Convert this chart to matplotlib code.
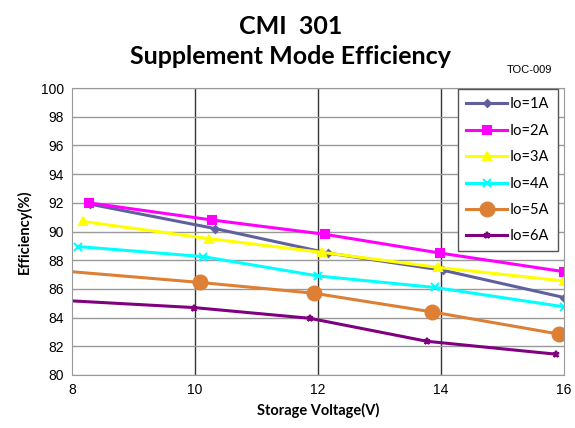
import matplotlib.pyplot as plt

labels = ["Io=1A", "Io=2A", "Io=3A", "Io=4A", "Io=5A", "Io=6A"]
volts = [
    [8.3, 10.33, 12.16, 14.03, 16.0],
    [8.27, 10.28, 12.12, 13.98, 16.0],
    [8.18, 10.23, 12.06, 13.95, 16.0],
    [8.1, 10.13, 12.0, 13.9, 16.0],
    [7.85, 10.08, 11.93, 13.85, 15.92],
    [7.85, 9.98, 11.87, 13.77, 15.87],
]
effs = [
    [91.9, 90.2, 88.5, 87.3, 85.4],
    [92.0, 90.8, 89.8, 88.5, 87.2],
    [90.7, 89.5, 88.55, 87.5, 86.55],
    [88.95, 88.25, 86.9, 86.1, 84.75],
    [87.25, 86.45, 85.7, 84.4, 82.85],
    [85.2, 84.7, 83.95, 82.35, 81.45],
]
colors = ["#60609E", "#FF00FF", "#FFFF00", "#00FFFF", "#DD8035", "#800080"]
markers = ["D", "s", "^", "x", "o", "*"]
msizes = [3.5, 6, 6, 6, 10, 5]

fig = plt.figure(figsize=(5.75, 4.28), dpi=100)
ax = fig.add_axes([72/575, 1-375/428, (564-72)/575, (375-88)/428])

for v, e, c, m, ms, lab in zip(volts, effs, colors, markers, msizes, labels):
    ax.plot(v, e, marker=m, markersize=ms, color=c, linewidth=2.2, label=lab,
            markeredgewidth=1.5)

ax.set_xlim(8, 16)
ax.set_ylim(80, 100)
ax.set_xticks([8, 10, 12, 14, 16])
ax.set_yticks(range(80, 101, 2))
ax.yaxis.grid(True, color="#999999", linewidth=1)
for xv in [10, 12, 14]:
    ax.axvline(xv, color="#333333", linewidth=1, zorder=0.5)
ax.set_axisbelow(True)
for s in ax.spines.values():
    s.set_color("#999999")
ax.tick_params(length=0, labelsize=10, pad=6)
for t in ax.get_xticklabels() + ax.get_yticklabels():
    t.set_family("Liberation Sans")

ax.set_xlabel("Storage Voltage(V)", fontsize=10.5, fontweight="bold", family="Lato", labelpad=4)
ax.set_ylabel("Efficiency(%)", fontsize=10.5, fontweight="bold", family="Lato", labelpad=6)

fig.text(0.505, 1-27/428, "CMI  301", ha="center", va="center", fontsize=18, fontweight="bold", family="Lato")
fig.text(0.505, 1-57/428, "Supplement Mode Efficiency", ha="center", va="center", fontsize=18, fontweight="bold", family="Lato")
fig.text(0.92, 1-70/428, "TOC-009", ha="center", va="center", fontsize=8, family="Liberation Sans")

leg = ax.legend(loc="upper right", bbox_to_anchor=(0.99, 1.0), borderaxespad=0.1,
                fancybox=False, framealpha=1, edgecolor="#555555", labelspacing=0.85,
                handlelength=2.8, handletextpad=0.2, borderpad=0.55,
                prop={"family": "Lato", "size": 10.5})
leg.get_frame().set_linewidth(1)

plt.savefig("out.png", dpi=100)
